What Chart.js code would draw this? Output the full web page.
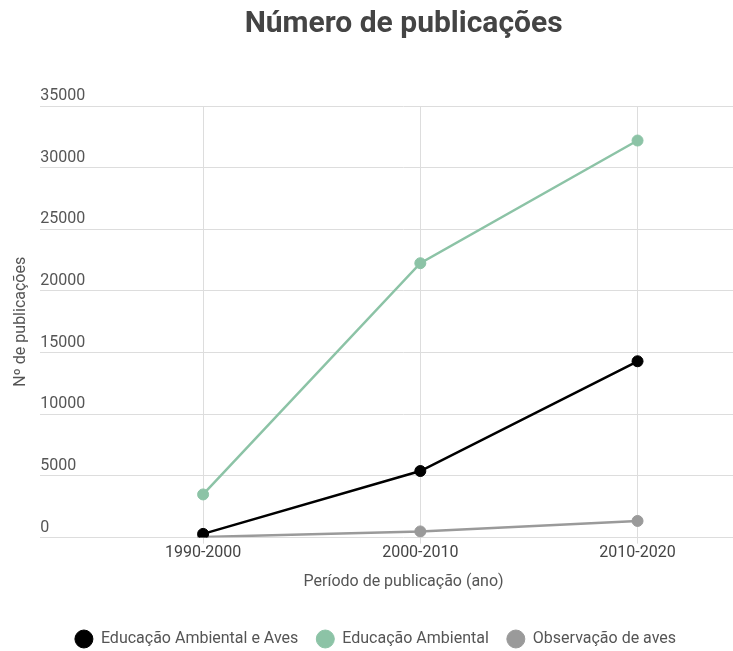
<!DOCTYPE html>
<html>
<head>
<meta charset="utf-8">
<script src="https://cdn.jsdelivr.net/npm/chart.js@4/dist/chart.umd.min.js"></script>
<style>
	html, body { margin: 0; padding: 0; background: #fff; overflow: hidden; }
	#wrap { width: 774px; height: 651px; }
	canvas { display: block; }
</style>
</head>
<body>
<div id="wrap"><canvas id="chart1"></canvas></div>
<script>
// dados
var periodos = ['1990-2000', '2000-2010', '2010-2020'];
var educAmbAves = [300, 5400, 14300];
var educAmb = [3500, 22250, 32200];
var observAves = [50, 500, 1350];

function toPoints(values) {
	return values.map(function(v, i) {
		return { x: i, y: v };
	});
}

Chart.defaults.font.family = 'Roboto, "Noto Sans", sans-serif';
Chart.defaults.font.size = 16;
Chart.defaults.color = '#555';

var ctx = document.getElementById('chart1');
var myChart = new Chart(ctx, {
	type: 'line',
	data: {
		datasets: [
			{
				label: 'Educação Ambiental e Aves',
				data: toPoints(educAmbAves),
				borderColor: '#000000',
				backgroundColor: '#000000'
			},
			{
				label: 'Educação Ambiental',
				data: toPoints(educAmb),
				borderColor: '#8cc3a6',
				backgroundColor: '#8cc3a6'
			},
			{
				label: 'Observação de aves',
				data: toPoints(observAves),
				borderColor: '#9a9a9a',
				backgroundColor: '#9a9a9a'
			}
		]
	},
	options: {
		responsive: true,
		maintainAspectRatio: false,
		animation: false,
		layout: { padding: { left: -23, right: 0, top: 0, bottom: -6 } },
		elements: {
			line: { borderWidth: 2.5, tension: 0 },
			point: { radius: 5.5, borderWidth: 1, hoverRadius: 6 }
		},
		plugins: {
			title: {
				display: true,
				fullSize: false,
				text: 'Número de publicações',
				color: '#444',
				font: { size: 30, weight: 'bold' },
				padding: { top: 6, bottom: 64 }
			},
			legend: {
				position: 'bottom',
				labels: {
					usePointStyle: true,
					pointStyle: 'circle',
					pointStyleWidth: 18,
					boxHeight: 12.7,
					padding: 18,
					color: '#555'
				}
			},
			tooltip: { enabled: false }
		},
		scales: {
			x: {
				type: 'linear',
				min: -0.75,
				max: 2.596,
				afterBuildTicks: function(axis) {
					axis.ticks = axis.ticks.filter(function(t) {
						return Number.isInteger(t.value);
					});
				},
				afterFit: function(axis) {
					axis.paddingLeft = 0;
					axis.paddingRight = 0;
				},
				ticks: {
					stepSize: 1,
					padding: 0,
					color: '#444',
					callback: function(value) {
						return periodos[value] || '';
					}
				},
				grid: { color: '#dddddd', tickLength: 6 },
				border: { display: false },
				title: {
					display: true,
					text: 'Período de publicação (ano)',
					color: '#555',
					padding: { top: 10, bottom: 21 }
				}
			},
			y: {
				min: 0,
				max: 35000,
				ticks: {
					stepSize: 5000,
					mirror: true,
					padding: 0,
					labelOffset: -10,
					color: '#555',
					callback: function(value) {
						return String(value);
					}
				},
				grid: { color: '#dddddd', drawTicks: false },
				border: { display: false },
				title: {
					display: true,
					text: 'Nº de publicações',
					color: '#555',
					padding: { top: 34, bottom: 10 }
				}
			}
		}
	}
});
</script>
</body>
</html>
